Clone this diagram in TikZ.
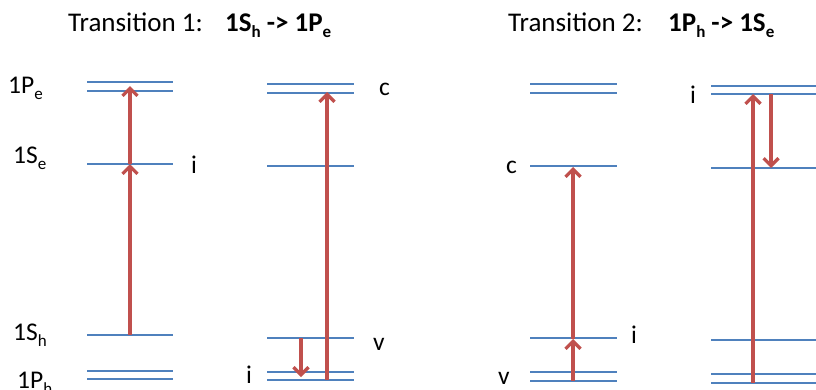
\documentclass[tikz,border=0pt]{standalone}
\usepackage{fontspec}
\setmainfont{Carlito}
\usepackage{tikz}
\usetikzlibrary{arrows.meta, positioning}
\definecolor{levelblue}{HTML}{4F81BD}
\definecolor{transred}{HTML}{C0504D}
\newcommand{\lvsub}[1]{\raisebox{-0.24em}{\fontsize{17}{17}\selectfont #1}}

\begin{document}
\begin{tikzpicture}[x=1pt, y=-1pt,
    level/.style={levelblue, line width=1.1pt},
    trans/.style={transred, line width=3.2pt, -{Straight Barb[length=7.5pt, width=15pt]}},
    lbl/.style={font=\fontsize{25.5}{30}\selectfont, inner sep=0pt, anchor=base west},
    ttl/.style={font=\fontsize{27}{32}\selectfont, inner sep=0pt, anchor=base west}]
  \useasboundingbox (0,0) rectangle (816,389);
  % titles
  \node[ttl] (title1) at (68,31) {Transition 1:};
  \node[ttl] (title1b) at (225,31) {\bfseries 1S\lvsub{h} -> 1P\lvsub{e}};
  \node[ttl] (title2) at (508,31) {Transition 2:};
  \node[ttl] (title2b) at (668,31) {\bfseries 1P\lvsub{h} -> 1S\lvsub{e}};
  % energy levels
  \foreach \y in {82,91,164,335,371,379}{ \draw[level] (87,\y) -- (173,\y); }
  \foreach \y in {84,93,166,338,372,380}{ \draw[level] (267,\y) -- (354,\y); }
  \foreach \y in {84,93,166,338,372,381}{ \draw[level] (530,\y) -- (617,\y); }
  \foreach \y in {86,94,168,340,374,383}{ \draw[level] (711,\y) -- (816,\y); }
  % level labels
  \node[lbl] (l1Pe) at (8,93) {1P\lvsub{e}};
  \node[lbl] (l1Se) at (13,163) {1S\lvsub{e}};
  \node[lbl] (l1Sh) at (13,340) {1S\lvsub{h}};
  \node[lbl] (l1Ph) at (17,388) {1P\lvsub{h}};
  \node[lbl] (aI) at (191,173) {i};
  \node[lbl] (bC) at (379,95) {c};
  \node[lbl] (bV) at (373,350) {v};
  \node[lbl] (bI) at (246,383) {i};
  \node[lbl] (cC) at (506,173) {c};
  \node[lbl] (cI) at (631,343) {i};
  \node[lbl] (cV) at (498,384) {v};
  \node[lbl] (dI) at (690,103) {i};
  % arrow ends
  \coordinate (a0) at (130,335);
  \coordinate (a1) at (130,164);
  \coordinate (a2) at (130,86);
  \coordinate (b0) at (327,380);
  \coordinate (b1) at (327,92);
  \coordinate (b2) at (301,338);
  \coordinate (b3) at (301,377);
  \coordinate (c0) at (573,381);
  \coordinate (c1) at (573,339);
  \coordinate (c2) at (573,167);
  \coordinate (d0) at (753,383);
  \coordinate (d1) at (753,94);
  \coordinate (d2) at (771,94);
  \coordinate (d3) at (771,168);
  % transitions
  \draw[trans] (a0) -- (a1);
  \draw[trans] (a1) -- (a2);
  \draw[trans] (b0) -- (b1);
  \draw[trans] (b2) -- (b3);
  \draw[trans] (c0) -- (c1);
  \draw[trans] (c1) -- (c2);
  \draw[trans] (d0) -- (d1);
  \draw[trans] (d2) -- (d3);
\end{tikzpicture}
\end{document}
